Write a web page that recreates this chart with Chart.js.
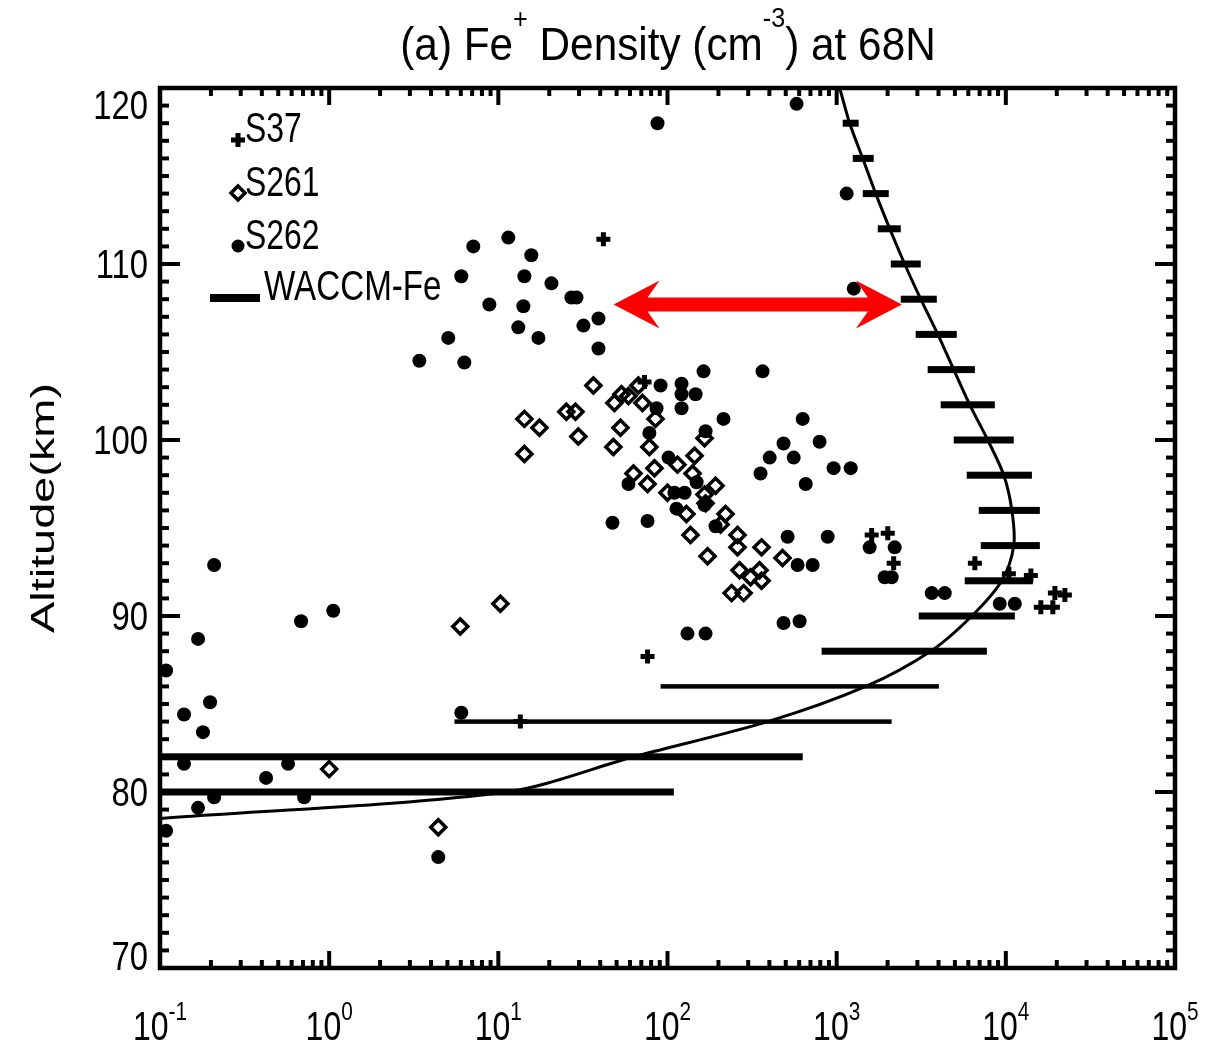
<!DOCTYPE html>
<html>
<head>
<meta charset="utf-8">
<script src="https://cdn.jsdelivr.net/npm/chart.js@4.4.0/dist/chart.umd.min.js"></script>
<style>
  html, body { margin: 0; padding: 0; background: #fff; }
  #wrap { width: 1225px; height: 1055px; }
</style>
</head>
<body>
<div id="wrap"><canvas id="feChart" width="1225" height="1055"></canvas></div>
<script>
// S37 rocket (plus markers): log10 of Fe+ density, altitude in km
const s37LogN = [1.621, 1.864, 1.882, 1.130, 3.207, 3.302, 3.337, 3.817, 4.018, 4.148, 4.207, 4.278, 4.290, 4.349];
const s37Alt  = [111.4, 103.3, 87.7, 84.0, 94.6, 94.7, 93.0, 93.0, 92.4, 92.3, 90.5, 90.5, 91.3, 91.2];

// S261 (open diamonds)
const s261LogN = [0.000, 0.645, 0.775, 1.012, 1.154, 1.243, 1.154, 1.402, 1.456, 1.473, 1.562, 1.686, 1.728, 1.769,
  1.828, 1.852, 1.929, 1.722, 1.680, 1.893, 1.923, 1.799, 1.882, 2.059, 2.160, 2.148, 2.219, 2.000, 2.219, 2.284,
  2.112, 2.225, 2.343, 2.314, 2.136, 2.237, 2.414, 2.414, 2.556, 2.426, 2.491, 2.544, 2.556, 2.379, 2.450, 2.680];
const s261Alt = [81.3, 78.0, 89.4, 90.7, 101.2, 100.7, 99.2, 101.6, 101.6, 100.2, 103.1, 102.1, 102.6, 102.5,
  103.1, 102.1, 101.2, 100.7, 99.6, 99.6, 98.4, 98.1, 97.5, 98.6, 99.1, 98.1, 100.1, 97.0, 96.9, 97.4,
  95.8, 96.4, 95.8, 95.2, 94.6, 93.4, 94.6, 93.9, 93.9, 92.6, 92.2, 92.6, 92.0, 91.3, 91.3, 93.3];

// S262 (filled circles)
const s262LogN = [-0.964, -0.858, -0.775, -0.680, -0.704, -0.746, -0.858, -0.680, -0.775, -0.964, -0.373, -0.243,
  -0.148, -0.166, 0.024, 0.781, 0.645, 0.852, 1.059, 1.195, 0.781, 1.154, 1.314, 1.432, 1.462, 0.947, 1.148,
  1.592, 1.503, 1.118, 0.704, 1.237, 1.592, 0.533, 0.799, 1.941, 2.763, 3.059, 3.101, 2.213, 2.562, 1.959,
  2.083, 2.083, 2.166, 2.083, 1.935, 2.331, 2.799, 2.225, 1.893, 2.686, 2.899, 2.604, 2.746, 2.982, 3.083,
  2.550, 2.817, 2.006, 1.769, 2.041, 2.101, 2.053, 2.219, 2.172, 1.675, 1.882, 2.284, 2.710, 2.947, 2.769,
  2.858, 2.686, 2.781, 2.118, 2.225, 3.195, 3.343, 3.284, 3.325, 3.562, 3.639, 3.964, 4.053];
const s262Alt = [86.9, 84.4, 88.7, 92.9, 85.1, 83.4, 81.6, 79.7, 79.1, 77.8, 80.8, 81.6,
  79.7, 89.7, 90.3, 84.5, 76.3, 111.0, 111.5, 110.5, 109.3, 109.3, 108.9, 108.1, 108.1, 107.7, 107.6,
  106.9, 106.5, 106.4, 105.8, 105.8, 105.2, 104.5, 104.4, 118.0, 119.1, 114.0, 108.6, 103.9, 103.9, 103.1,
  103.2, 102.6, 102.6, 101.8, 101.8, 101.2, 101.2, 100.5, 100.4, 99.8, 99.9, 99.0, 99.0, 98.4, 98.4,
  98.1, 97.5, 99.0, 97.5, 97.0, 97.0, 96.1, 96.3, 97.6, 95.3, 95.4, 95.1, 94.5, 94.5, 92.9,
  92.9, 89.6, 89.7, 89.0, 89.0, 93.9, 93.9, 92.2, 92.2, 91.3, 91.3, 90.7, 90.7];

// WACCM-Fe model profile (cm^-3)
const waccmAlt = [78.5, 80, 82, 84, 86, 88, 90, 92, 94, 96, 98, 100, 102, 104, 106, 108, 110, 112, 114, 116, 118, 120];
const waccmN   = [0.1, 11.2, 63, 391, 1486, 3597, 6295, 9462, 11140, 10860, 9727, 7816, 6124, 4920, 3963, 3141,
  2523, 2061, 1702, 1426, 1194, 1042];

// WACCM-Fe variability bars
const barAlt = [80, 82, 84, 86, 88, 90, 92, 94, 96, 98, 100, 102, 104, 106, 108, 110, 112, 114, 116, 118];
const barLo  = [0.05, 0.05, 5.5, 91, 815, 3055, 5715, 7112, 6918, 5875, 4920, 4121, 3451, 2931, 2393, 2089, 1750, 1426, 1245, 1086];
const barHi  = [109, 630, 2113, 4018, 7727, 11300, 14450, 15890, 15890, 14260, 11140, 8610, 6561, 5129, 3908, 3141, 2393, 2032, 1656, 1349];

// red double arrow
const arrowAlt = 107.7;
const arrowFrom = 48;
const arrowTo = 2430;

const yTicks = [70, 80, 90, 100, 110, 120];
const xDecades = [-1, 0, 1, 2, 3, 4, 5];

const FONT = '"Liberation Sans", Arial, Helvetica, sans-serif';

function toPts(logs, alts) {
  return logs.map((v, i) => ({ x: Math.pow(10, v), y: alts[i] }));
}

// text squeezed horizontally like the original IDL output
function squeezed(ctx, str, x, y, px, sx, align) {
  ctx.save();
  ctx.font = px + 'px ' + FONT;
  ctx.textBaseline = 'alphabetic';
  ctx.textAlign = 'left';
  const w = ctx.measureText(str).width * sx;
  const x0 = align === 'right' ? x - w : align === 'center' ? x - w / 2 : x;
  ctx.translate(x0, y);
  ctx.scale(sx, 1);
  ctx.fillText(str, 0, 0);
  ctx.restore();
  return w;
}

// segments: [text, size, raise]
function richText(ctx, segs, cx, y, sx) {
  let total = 0;
  segs.forEach(s => { ctx.font = s[1] + 'px ' + FONT; total += ctx.measureText(s[0]).width * sx; });
  let x = cx - total / 2;
  segs.forEach(s => { x += squeezed(ctx, s[0], x, y + s[2], s[1], sx, 'left'); });
}

const errorBars = {
  id: 'errorBars',
  beforeDatasetsDraw(chart) {
    const { ctx, chartArea: a, scales: { x, y } } = chart;
    ctx.save();
    ctx.beginPath();
    ctx.rect(a.left, a.top, a.width, a.height);
    ctx.clip();
    ctx.fillStyle = '#000';
    barAlt.forEach((alt, i) => {
      const py = y.getPixelForValue(alt);
      const x1 = Math.max(a.left, x.getPixelForValue(barLo[i]));
      const x2 = x.getPixelForValue(barHi[i]);
      const t = (alt === 84 || alt === 86) ? 4.5 : 7;
      ctx.fillRect(x1, py - t / 2, x2 - x1, t);
    });
    ctx.restore();
  }
};

const overlay = {
  id: 'overlay',
  afterDatasetsDraw(chart) {
    const { ctx, chartArea: a, scales: { x, y } } = chart;

    // arrow
    const ay = y.getPixelForValue(arrowAlt);
    const xl = x.getPixelForValue(arrowFrom);
    const xr = x.getPixelForValue(arrowTo);
    const hl = 46, hw = 24, notch = 12, sh = 7;
    ctx.save();
    ctx.fillStyle = '#ff0000';
    ctx.beginPath();
    ctx.moveTo(xl, ay);
    ctx.lineTo(xl + hl, ay - hw);
    ctx.lineTo(xl + hl - notch, ay - sh);
    ctx.lineTo(xr - hl + notch, ay - sh);
    ctx.lineTo(xr - hl, ay - hw);
    ctx.lineTo(xr, ay);
    ctx.lineTo(xr - hl, ay + hw);
    ctx.lineTo(xr - hl + notch, ay + sh);
    ctx.lineTo(xl + hl - notch, ay + sh);
    ctx.lineTo(xl + hl, ay + hw);
    ctx.closePath();
    ctx.fill();
    ctx.restore();

    // legend
    ctx.save();
    ctx.fillStyle = '#000';
    ctx.strokeStyle = '#000';
    const lx = 238;
    ctx.lineWidth = 5;
    ctx.beginPath();
    ctx.moveTo(lx - 7, 140); ctx.lineTo(lx + 7, 140);
    ctx.moveTo(lx, 133); ctx.lineTo(lx, 147);
    ctx.stroke();
    ctx.lineWidth = 3.5;
    ctx.beginPath();
    ctx.moveTo(lx - 7, 193); ctx.lineTo(lx, 186); ctx.lineTo(lx + 7, 193); ctx.lineTo(lx, 200);
    ctx.closePath();
    ctx.stroke();
    ctx.beginPath();
    ctx.arc(lx, 246, 6.5, 0, Math.PI * 2);
    ctx.fill();
    ctx.fillRect(210, 294, 50, 8);
    squeezed(ctx, 'S37', 245, 142, 42, 0.76, 'left');
    squeezed(ctx, 'S261', 245, 196, 42, 0.76, 'left');
    squeezed(ctx, 'S262', 245, 249, 42, 0.76, 'left');
    squeezed(ctx, 'WACCM-Fe', 264, 300, 42, 0.79, 'left');
    ctx.restore();

    // inward ticks and frame
    ctx.save();
    ctx.fillStyle = '#000';
    for (let v = 70; v <= 120; v++) {
      const py = y.getPixelForValue(v);
      const len = v % 10 === 0 ? 20 : 9;
      ctx.fillRect(a.left, py - 2, len, 4);
      ctx.fillRect(a.right - len, py - 2, len, 4);
    }
    for (let e = -1; e < 5; e++) {
      for (let m = 1; m < 10; m++) {
        const px = x.getPixelForValue(m * Math.pow(10, e));
        const len = m === 1 ? 17 : 8;
        ctx.fillRect(px - 2, a.top, 4, len);
        ctx.fillRect(px - 2, a.bottom - len, 4, len);
      }
    }
    ctx.strokeStyle = '#000';
    ctx.lineWidth = 4.5;
    ctx.strokeRect(a.left, a.top, a.width, a.height);
    ctx.restore();
  },
  afterDraw(chart) {
    const { ctx, scales: { x, y } } = chart;
    ctx.save();
    ctx.fillStyle = '#000';

    // title
    richText(ctx, [['(a) Fe', 47, 0], ['+', 28, -32], [' Density (cm', 47, 0], ['-3', 28, -33], [') at 68N', 47, 0]],
      668, 60, 0.9);

    // y tick labels (end labels pulled inside like IDL)
    yTicks.forEach(v => {
      let py = y.getPixelForValue(v);
      if (v === 120) py += 17;
      if (v === 70) py -= 12;
      squeezed(ctx, String(v), 148, py + 14, 40, 0.82, 'right');
    });

    // x tick labels 10^n
    xDecades.forEach(n => {
      const px = x.getPixelForValue(Math.pow(10, n));
      richText(ctx, [['10', 40, 0], [String(n), 26, -20]], px, 1040, 0.8);
    });

    // y axis title
    ctx.save();
    ctx.font = '33px ' + FONT;
    const label = 'Altitude(km)';
    const w = ctx.measureText(label).width;
    ctx.translate(54, 508);
    ctx.rotate(-Math.PI / 2);
    ctx.scale(250 / w, 1);
    ctx.textAlign = 'center';
    ctx.textBaseline = 'alphabetic';
    ctx.fillText(label, 0, 0);
    ctx.restore();

    ctx.restore();
  }
};

const feChart = new Chart(document.getElementById('feChart'), {
  type: 'scatter',
  data: {
    datasets: [
      {
        label: 'S37',
        data: toPts(s37LogN, s37Alt),
        pointStyle: 'cross',
        pointRadius: 7,
        borderWidth: 5,
        borderColor: '#000',
        backgroundColor: '#000'
      },
      {
        label: 'S261',
        data: toPts(s261LogN, s261Alt),
        pointStyle: 'rectRot',
        pointRadius: 7.5,
        borderWidth: 3.5,
        borderColor: '#000',
        backgroundColor: 'rgba(0,0,0,0)'
      },
      {
        label: 'S262',
        data: toPts(s262LogN, s262Alt),
        pointStyle: 'circle',
        pointRadius: 7,
        borderWidth: 0,
        backgroundColor: '#000'
      },
      {
        label: 'WACCM-Fe',
        data: waccmAlt.map((alt, i) => ({ x: waccmN[i], y: alt })),
        showLine: true,
        pointRadius: 0,
        borderWidth: 3,
        borderColor: '#000',
        tension: 0.3
      }
    ]
  },
  options: {
    responsive: false,
    animation: false,
    events: [],
    layout: { padding: { left: 160, right: 50, top: 88, bottom: 87 } },
    scales: {
      x: { type: 'logarithmic', min: 0.1, max: 1e5, display: false },
      y: { type: 'linear', min: 70, max: 120, display: false }
    },
    plugins: {
      legend: { display: false },
      tooltip: { enabled: false }
    }
  },
  plugins: [errorBars, overlay]
});
</script>
</body>
</html>
